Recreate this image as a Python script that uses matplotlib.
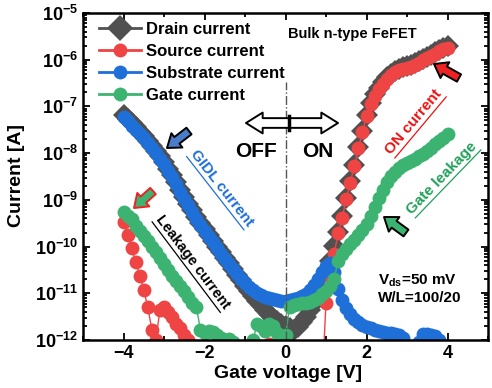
import numpy as np
import matplotlib

matplotlib.use("Agg")
import matplotlib.pyplot as plt
from matplotlib.lines import Line2D
from matplotlib.patches import FancyArrowPatch
from matplotlib.ticker import (FixedLocator, FuncFormatter, LogLocator,
                               MultipleLocator, NullFormatter)

plt.rcParams["font.family"] = ["Liberation Sans", "DejaVu Sans"]
plt.rcParams["font.weight"] = "bold"
plt.rcParams["mathtext.fontset"] = "custom"
plt.rcParams["mathtext.rm"] = "Liberation Sans:bold"
plt.rcParams["mathtext.bf"] = "Liberation Sans:bold"
plt.rcParams["mathtext.it"] = "Liberation Sans:bold:italic"
plt.rcParams["mathtext.default"] = "bf"

W, H = 492, 388

# gate sweep, -4 V .. 4 V in 0.1 V steps
vg = np.linspace(-4, 4, 81)

# log10 of the measured currents [A]; values below 1e-12 fall outside the axis
log_drain = [
    -7.18, -7.27, -7.36, -7.45, -7.54, -7.63, -7.73, -7.84, -7.95, -8.07,
    -8.19, -8.33, -8.47, -8.62, -8.78, -8.94, -9.08, -9.22, -9.36, -9.50,
    -9.63, -9.76, -9.88, -10.00, -10.12, -10.24, -10.36, -10.48, -10.60, -10.72,
    -10.84, -10.95, -11.06, -11.16, -11.26, -11.35, -11.45, -11.53, -11.60, -11.66,
    -11.70, -11.75, -11.78, -11.72, -11.62, -11.50, -11.36, -11.20, -11.02, -10.82,
    -10.60, -10.30, -9.98, -9.68, -9.35, -8.95, -8.60, -8.25, -7.87, -7.52,
    -7.18, -6.92, -6.74, -6.60, -6.48, -6.38, -6.30, -6.24, -6.19, -6.16,
    -6.14, -6.12, -6.08, -6.03, -5.98, -5.94, -5.89, -5.84, -5.79, -5.75,
    -5.71,
]
log_source = [
    -9.47, -9.75, -10.02, -10.32, -10.62, -10.93, -11.30, -11.78, -12.00, -11.35,
    -11.30, -11.40, -11.50, -11.65, -11.75, -11.90, -12.00, -12.10, -13.0, -13.0,
    -13.0, -13.0, -13.0, -13.0, -13.0, -13.0, -13.0, -13.0, -13.0, -13.0,
    -13.0, -13.0, -13.0, -13.0, -13.0, -13.0, -12.08, -13.0, -13.0, -13.0,
    -13.0, -12.10, -13.0, -13.0, -13.0, -13.0, -13.0, -13.0, -13.0, -13.0,
    -11.20, -10.70, -10.15, -9.72, -9.38, -8.98, -8.63, -8.28, -7.90, -7.55,
    -7.21, -6.95, -6.77, -6.63, -6.51, -6.41, -6.33, -6.27, -6.22, -6.19,
    -6.17, -6.15, -6.11, -6.06, -6.01, -5.97, -5.92, -5.87, -5.82, -5.78,
    -5.74,
]
log_substrate = [
    -7.23, -7.32, -7.41, -7.50, -7.59, -7.68, -7.78, -7.89, -8.00, -8.12,
    -8.24, -8.38, -8.52, -8.67, -8.83, -8.98, -9.12, -9.26, -9.40, -9.53,
    -9.66, -9.79, -9.91, -10.03, -10.15, -10.26, -10.37, -10.48, -10.59, -10.69,
    -10.78, -10.86, -10.93, -10.99, -11.04, -11.08, -11.11, -11.13, -11.15, -11.16,
    -11.16, -11.15, -11.13, -11.10, -11.06, -11.01, -10.93, -10.83, -10.70, -10.55,
    -10.42, -10.36, -10.55, -10.90, -11.15, -11.32, -11.45, -11.55, -11.62, -11.68,
    -11.72, -11.75, -11.78, -11.80, -11.82, -11.84, -11.86, -11.88, -11.90, -11.95,
    -12.30, -12.40, -12.30, -12.05, -11.87, -11.88, -11.90, -11.92, -12.00, -12.20,
    -12.40,
]
log_gate = [
    -9.26, -9.34, -9.42, -9.55, -9.67, -9.78, -9.89, -10.00, -10.12, -10.25,
    -10.37, -10.50, -10.62, -10.74, -10.85, -10.95, -11.08, -11.20, -11.30, -11.78,
    -11.85, -11.80, -11.82, -11.90, -11.95, -12.00, -11.98, -12.05, -12.20, -12.50,
    -13.0, -12.50, -12.00, -11.65, -11.70, -11.80, -11.65, -11.70, -11.85, -11.95,
    -11.90, -11.30, -11.25, -11.22, -11.20, -11.20, -11.18, -11.15, -11.10, -11.02,
    -10.95, -10.85, -10.70, -10.30, -10.15, -10.05, -9.95, -9.85, -9.75, -9.65,
    -9.52, -9.35, -9.15, -8.95, -8.78, -8.62, -8.50, -8.40, -8.32, -8.26,
    -8.21, -8.17, -8.12, -8.07, -8.01, -7.95, -7.88, -7.81, -7.74, -7.67,
    -7.60,
]

labels = ["Drain current", "Source current", "Substrate current", "Gate current"]
colors = ["#505050", "#EE4444", "#1F6FD8", "#3CB371"]
decades = [-12, -11, -10, -9, -8, -7, -6, -5]


def fx(x, y):
    """pixel position (from top-left) -> figure fraction"""
    return x / W, 1 - y / H


fig = plt.figure(figsize=(W / 100, H / 100), dpi=100)
ax = fig.add_axes([83 / W, 1 - 340 / H, (488 - 83) / W, (340 - 13) / H])

series = [log_drain, log_source, log_substrate, log_gate]
markers = ["D", "o", "o", "o"]
sizes = [11.5, 10, 10, 10]
for vals, c, m, ms in zip(series, colors, markers, sizes):
    ax.plot(vg, 10 ** np.array(vals), color=c, lw=1, marker=m, ms=ms,
            markeredgewidth=0)

ax.set_yscale("log")
ax.set_ylim(1e-12, 1e-5)
ax.set_xlim(-5, 5)

ax.xaxis.set_major_locator(MultipleLocator(2))
ax.xaxis.set_minor_locator(MultipleLocator(1))
ax.yaxis.set_major_locator(FixedLocator([10.0 ** d for d in decades]))
ax.yaxis.set_minor_locator(LogLocator(base=10, subs=np.arange(2, 10), numticks=10))
ax.yaxis.set_major_formatter(
    FuncFormatter(lambda v, _: r"$\mathbf{10^{%d}}$" % round(np.log10(v))))
ax.yaxis.set_minor_formatter(NullFormatter())
ax.tick_params(which="both", direction="in", top=True, right=True,
               width=1.3, labelsize=13)
ax.tick_params(which="major", length=5)
ax.tick_params(which="minor", length=3)
for s in ax.spines.values():
    s.set_linewidth(1.8)

fig.text(*fx(288, 373), "Gate voltage [V]", fontsize=14, ha="center", va="center")
fig.text(*fx(17, 176), "Current [A]", fontsize=14, ha="center", va="center",
         rotation=90)

ax.axvline(0, ymax=0.79, color="#555555", lw=1, ls="-.")

handles = [Line2D([], [], color=c, lw=2, marker=m, ms=ms, markeredgewidth=0)
           for c, m, ms in zip(colors, markers, [13, 10, 10, 10])]
fig.legend(handles, labels, loc="upper left", bbox_to_anchor=fx(99, 22),
           frameon=False, fontsize=12, handlelength=2.5, handletextpad=0.3,
           labelspacing=0.42, borderpad=0, borderaxespad=0)


def block_arrow(tail, tip, face, edge, hw=13, hl=9, tw=6, lw=1.4):
    style = f"simple,head_width={hw},head_length={hl},tail_width={tw}"
    arr = FancyArrowPatch(fx(*tail), fx(*tip), transform=fig.transFigure,
                          arrowstyle=style, mutation_scale=1, fc=face, ec=edge,
                          lw=lw, shrinkA=0, shrinkB=0)
    fig.add_artist(arr)


# OFF / ON double arrow
block_arrow((289, 123), (246, 123), "white", "black", hw=15, hl=12, tw=7, lw=1.4)
block_arrow((289, 123), (338, 123), "white", "black", hw=15, hl=12, tw=7, lw=1.4)
fig.add_artist(Line2D([289 / W] * 2, [1 - 116 / H, 1 - 130 / H],
                      transform=fig.transFigure, color="black", lw=2.5))
fig.text(*fx(256, 152), "OFF", fontsize=15, ha="center", va="center")
fig.text(*fx(318, 152), "ON", fontsize=15, ha="center", va="center")

# pointer arrows
block_arrow((189, 131), (167, 148), "#4A7CC8", "black")
block_arrow((153, 191), (134, 208), "#3CB371", "#EE2222")
block_arrow((459, 78), (434, 64), "#EE2222", "black")
block_arrow((406, 233), (384, 217), "#3CB371", "black")

fig.text(*fx(352, 34), "Bulk n-type FeFET", fontsize=10.5, ha="center", va="center")
fig.text(*fx(378, 281), "$V_{ds}$=50 mV", fontsize=11, ha="left", va="center")
fig.text(*fx(378, 298), "W/L=100/20", fontsize=11, ha="left", va="center")

renderer = fig.canvas.get_renderer()


def tag(text, cx, cy, angle, color, size):
    """rotated, underlined note centred at pixel (cx, cy)"""
    t = fig.text(*fx(cx, cy), text, fontsize=size, color=color,
                 ha="center", va="center", rotation_mode="anchor")
    bb = t.get_window_extent(renderer)
    t.set_rotation(angle)
    a = np.deg2rad(angle)
    u = np.array([np.cos(a), np.sin(a)])
    n = np.array([np.sin(a), -np.cos(a)])
    c = np.array([cx, H - cy]) + n * (bb.height / 2 + 1.5)
    p0, p1 = c - u * bb.width / 2, c + u * bb.width / 2
    fig.add_artist(Line2D([p0[0] / W, p1[0] / W], [p0[1] / H, p1[1] / H],
                          transform=fig.transFigure, color=color, lw=0.9))


tag("GIDL current", 222, 188, -52, "#1F6FD8", 11)
tag("Leakage current", 193, 262, -53, "black", 10.5)
tag("ON current", 414, 122, 50, "#EE1111", 11)
tag("Gate leakage", 442, 178, 46, "#22A05A", 11)

fig.savefig("out.png", dpi=100)
